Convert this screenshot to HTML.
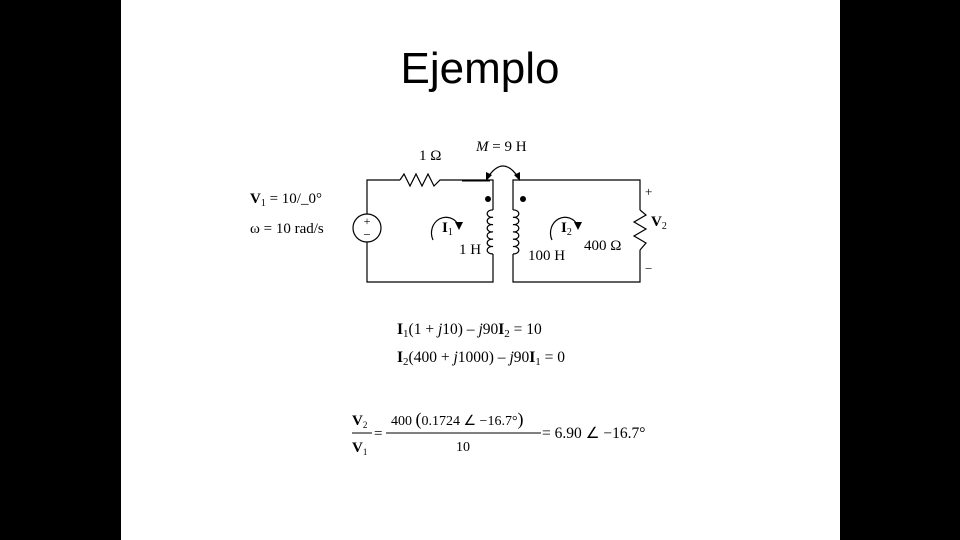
<!DOCTYPE html>
<html><head><meta charset="utf-8"><style>
body{margin:0;background:#000;}
#s{position:absolute;left:121px;top:0;width:719px;height:540px;background:#fff;}
svg{position:absolute;left:0;top:0;}
</style></head><body>
<div id="s"></div>
<svg width="960" height="540" viewBox="0 0 960 540" font-family="Liberation Serif, serif" font-size="15">
<text x="480" y="83" font-family="Liberation Sans, sans-serif" font-size="44" text-anchor="middle">Ejemplo</text>
<g fill="none" stroke="#000" stroke-width="1.2">
<polyline points="367,214 367,180 400,180"/>
<polyline points="400,180 404,174 410,186 416,174 422,186 428,174 434,186 440,180 493,180 493,210"/>
<line x1="462" y1="180.5" x2="490" y2="180.5" stroke-width="2"/>
<polyline points="367,242 367,282 493,282 493,254"/>
<circle cx="367" cy="228" r="14"/>
<path d="M493,210 a5,3.7 0 1 0 0,7.3 a5,3.7 0 1 0 0,7.3 a5,3.7 0 1 0 0,7.3 a5,3.7 0 1 0 0,7.3 a5,3.7 0 1 0 0,7.3 a5,3.7 0 1 0 0,7.3"/>
<path d="M513,210 a5,3.7 0 1 1 0,7.3 a5,3.7 0 1 1 0,7.3 a5,3.7 0 1 1 0,7.3 a5,3.7 0 1 1 0,7.3 a5,3.7 0 1 1 0,7.3 a5,3.7 0 1 1 0,7.3"/>
<polyline points="513,210 513,180 640,180 640,210"/>
<polyline points="513,254 513,282 640,282 640,250"/>
<polyline points="640,210 646,215 634,222 646,229 634,236 646,243 640,250"/>
<path d="M488,177 Q503,155 518,177"/>
<path d="M433,240 A12,13 0 1 1 459,226"/>
<path d="M552,240 A12,13 0 1 1 578,226"/>
</g>
<g fill="#000">
<polygon points="486,181 486,172 492,175"/>
<polygon points="520,181 514,175 520,172"/>
<polygon points="459,230 455,222 463,222"/>
<polygon points="578,230 574,222 582,222"/>
<circle cx="488" cy="199" r="3"/>
<circle cx="523" cy="199" r="3"/>
</g>
<text x="367" y="225" text-anchor="middle" font-size="12">+</text>
<text x="367" y="239" text-anchor="middle" font-size="13">−</text>
<text x="419" y="160">1 Ω</text>
<text x="476" y="151"><tspan font-style="italic">M</tspan> = 9 H</text>
<text x="250" y="203"><tspan font-weight="bold">V</tspan><tspan font-size="10" dy="3">1</tspan><tspan dy="-3"> = 10/_0°</tspan></text>
<text x="250" y="233">ω = 10 rad/s</text>
<text x="442" y="232" font-weight="bold">I<tspan font-size="10" dy="3" font-weight="normal">1</tspan></text>
<text x="459" y="254">1 H</text>
<text x="561" y="232" font-weight="bold">I<tspan font-size="10" dy="3" font-weight="normal">2</tspan></text>
<text x="528" y="260">100 H</text>
<text x="584" y="250">400 Ω</text>
<text x="651" y="226" font-weight="bold">V<tspan font-size="10" dy="3" font-weight="normal">2</tspan></text>
<text x="645" y="196" font-size="13">+</text>
<text x="645" y="273" font-size="13">−</text>
<g font-size="15.5">
<text x="397" y="334"><tspan font-weight="bold">I</tspan><tspan font-size="11" dy="3">1</tspan><tspan dy="-3">(1 + </tspan><tspan font-style="italic">j</tspan>10) – <tspan font-style="italic">j</tspan>90<tspan font-weight="bold">I</tspan><tspan font-size="11" dy="3">2</tspan><tspan dy="-3">  = 10</tspan></text>
<text x="397" y="362"><tspan font-weight="bold">I</tspan><tspan font-size="11" dy="3">2</tspan><tspan dy="-3">(400 + </tspan><tspan font-style="italic">j</tspan>1000) – <tspan font-style="italic">j</tspan>90<tspan font-weight="bold">I</tspan><tspan font-size="11" dy="3">1</tspan><tspan dy="-3">  = 0</tspan></text>
</g>
<text x="352" y="425" font-weight="bold">V<tspan font-size="9" dy="3" font-weight="normal">2</tspan></text>
<text x="352" y="452" font-weight="bold">V<tspan font-size="9" dy="3" font-weight="normal">1</tspan></text>
<line x1="352" y1="433" x2="372" y2="433" stroke="#000"/>
<text x="374" y="438">=</text>
<text x="391" y="425" font-size="14">400 <tspan font-size="18">(</tspan>0.1724 ∠ −16.7°<tspan font-size="18">)</tspan></text>
<line x1="386" y1="433" x2="541" y2="433" stroke="#000"/>
<text x="456" y="451" font-size="14">10</text>
<text x="542" y="438" font-size="15.5">= 6.90 ∠ −16.7°</text>
</svg>
</body></html>
